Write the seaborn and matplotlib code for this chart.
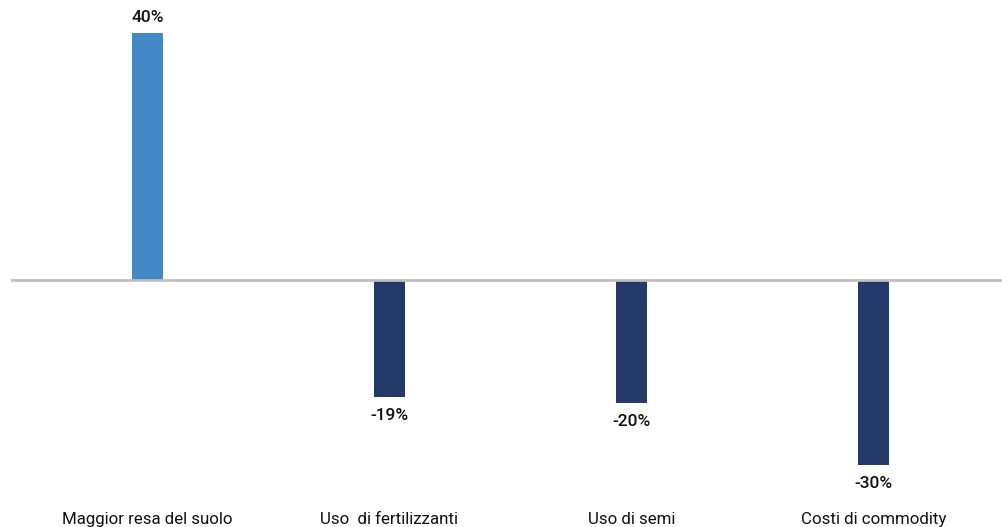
import matplotlib
matplotlib.use("Agg")
import pandas as pd
import seaborn as sns
import matplotlib.pyplot as plt

# chart data
categories = ["Maggior resa del suolo", "Uso  di fertilizzanti", "Uso di semi", "Costi di commodity"]
values = [40, -19, -20, -30]
bar_colors = ["#4389C8", "#243A6B", "#243A6B", "#243A6B"]

df = pd.DataFrame({"categoria": categories, "valore": values})

sns.set_style("white")
plt.rcParams["font.family"] = ["Roboto", "DejaVu Sans"]

fig = plt.figure(figsize=(10.02, 5.27), dpi=100)
W, H = 1002, 527
# axes from x=11px to right edge, top to ~505px
ax = fig.add_axes([11 / W, 1 - 505 / H, 1 - 11 / W, 505 / H])

sns.barplot(data=df, x="categoria", y="valore", hue="categoria", palette=bar_colors,
            width=0.128, legend=False, ax=ax, saturation=1, linewidth=0)

ppu = 6.17  # pixels per percentage point
ax.set_ylim(-(505 - 280) / ppu, 280 / ppu)
ax.set_xlim((11 - 147.5) / 242, (1002 - 147.5) / 242)

ax.axhline(0, color="#BFBFBF", linewidth=2.0, zorder=3)

for i, v in enumerate(values):
    if v >= 0:
        ax.annotate(f"{v}%", (i, v), xytext=(0, 6), textcoords="offset points",
                    ha="center", va="bottom", fontsize=12.5, fontweight="medium", color="#111111")
    else:
        ax.annotate(f"{v}%", (i, v), xytext=(0, -7.5), textcoords="offset points",
                    ha="center", va="top", fontsize=12.5, fontweight="medium", color="#111111")

ax.set_xlabel("")
ax.set_ylabel("")
ax.set_yticks([])
ax.tick_params(axis="x", length=0, pad=5, labelsize=12.2, labelcolor="#111111")
for s in ax.spines.values():
    s.set_visible(False)

fig.savefig("out.png", dpi=100)
